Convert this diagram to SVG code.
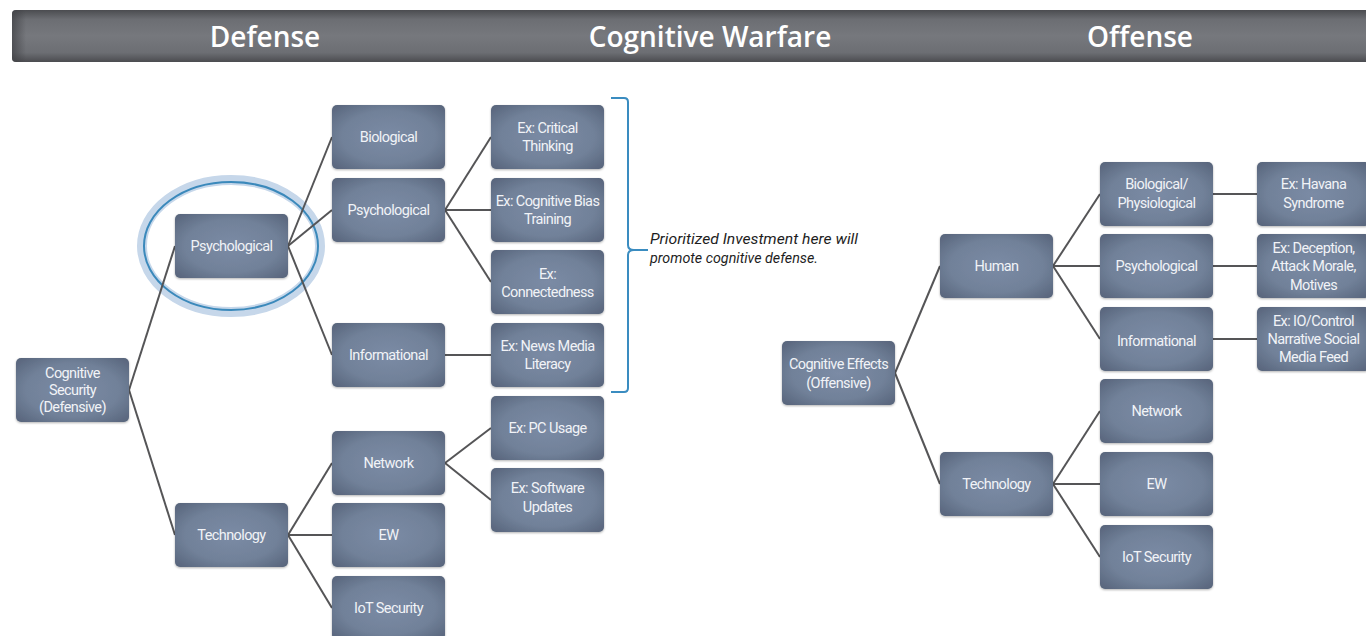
<svg xmlns="http://www.w3.org/2000/svg" width="1366" height="636" viewBox="0 0 1366 636">
<defs>
<linearGradient id="hdr" x1="0" y1="0" x2="0" y2="1">
<stop offset="0" stop-color="#4b4c50"/>
<stop offset="0.18" stop-color="#6c6e73"/>
<stop offset="0.5" stop-color="#76787d"/>
<stop offset="0.82" stop-color="#6c6e73"/>
<stop offset="1" stop-color="#4b4c50"/>
</linearGradient>
<linearGradient id="hdrL" x1="0" y1="0" x2="1" y2="0">
<stop offset="0" stop-color="#3f4044" stop-opacity="0.7"/>
<stop offset="1" stop-color="#3f4044" stop-opacity="0"/>
</linearGradient>
<radialGradient id="nodeG" cx="0.5" cy="0.5" r="0.75">
<stop offset="0" stop-color="#7b8ba5"/>
<stop offset="0.55" stop-color="#718199"/>
<stop offset="1" stop-color="#525e75"/>
</radialGradient>
<filter id="sh" x="-10%" y="-10%" width="120%" height="125%">
<feDropShadow dx="0" dy="1" stdDeviation="1" flood-color="#000" flood-opacity="0.3"/>
</filter>
</defs>
<style>
.hdrtxt{font-family:"Open Sans","DejaVu Sans",sans-serif;font-weight:600;font-size:28px;fill:#ffffff;text-anchor:middle}
.node rect{fill:url(#nodeG);filter:url(#sh)}
.node text{font-family:"Roboto","Liberation Sans",sans-serif;font-size:14.5px;fill:#f1f3f7;text-anchor:middle;letter-spacing:-0.6px}
.conn line{stroke:#555557;stroke-width:2}
.note{font-family:"Roboto","Liberation Sans",sans-serif;font-style:italic;font-size:15.5px;fill:#1e1e1e}
</style>
<rect width="1366" height="636" fill="#ffffff"/>
<g id="header">
<rect x="12" y="10" width="1370" height="52" rx="4" fill="url(#hdr)"/>
<rect x="12" y="10" width="14" height="52" rx="4" fill="url(#hdrL)"/>
<text class="hdrtxt" x="265" y="47">Defense</text>
<text class="hdrtxt" x="710" y="47">Cognitive Warfare</text>
<text class="hdrtxt" x="1140" y="47">Offense</text>
</g>
<g id="highlight">
<ellipse cx="231" cy="246" rx="89" ry="66" fill="none" stroke="#c6d7ea" stroke-width="10"/>
<ellipse cx="231" cy="246" rx="87" ry="64" fill="none" stroke="#3b89bb" stroke-width="2"/>
</g>
<g id="connectors" class="conn">
<line x1="129" y1="390" x2="175" y2="246"/>
<line x1="129" y1="390" x2="175" y2="535"/>
<line x1="288" y1="246" x2="332" y2="137"/>
<line x1="288" y1="246" x2="332" y2="210"/>
<line x1="288" y1="246" x2="332" y2="355"/>
<line x1="288" y1="535" x2="332" y2="463"/>
<line x1="288" y1="535" x2="332" y2="535"/>
<line x1="288" y1="535" x2="332" y2="608"/>
<line x1="445" y1="210" x2="491" y2="137"/>
<line x1="445" y1="210" x2="491" y2="210"/>
<line x1="445" y1="210" x2="491" y2="282"/>
<line x1="445" y1="355" x2="491" y2="355"/>
<line x1="445" y1="463" x2="491" y2="428"/>
<line x1="445" y1="463" x2="491" y2="500"/>
<line x1="895" y1="373" x2="940" y2="266"/>
<line x1="895" y1="373" x2="940" y2="484"/>
<line x1="1053" y1="266" x2="1100" y2="194"/>
<line x1="1053" y1="266" x2="1100" y2="266"/>
<line x1="1053" y1="266" x2="1100" y2="339"/>
<line x1="1053" y1="484" x2="1100" y2="411"/>
<line x1="1053" y1="484" x2="1100" y2="484"/>
<line x1="1053" y1="484" x2="1100" y2="557"/>
<line x1="1213" y1="194" x2="1257" y2="194"/>
<line x1="1213" y1="266" x2="1257" y2="266"/>
<line x1="1213" y1="339" x2="1257" y2="339"/>
</g>
<g id="bracket">
<path d="M611,98 H624 Q628,98 628,102 V245 Q628,250 634,250 H648 M634,250 Q628,250 628,255 V388 Q628,392 624,392 H611" fill="none" stroke="#3a8cc0" stroke-width="2"/>
<text class="note" x="650" y="244" textLength="208" lengthAdjust="spacingAndGlyphs">Prioritized Investment here will</text>
<text class="note" x="650" y="263" textLength="168" lengthAdjust="spacingAndGlyphs">promote cognitive defense.</text>
</g>
<g id="n-cogsec" class="node"><rect x="16" y="358" width="113" height="64" rx="5"/><text x="72.5" y="378">Cognitive</text><text x="72.5" y="395">Security</text><text x="72.5" y="412">(Defensive)</text></g>
<g id="n-psych1" class="node"><rect x="175" y="214" width="113" height="64" rx="5"/><text x="231.5" y="251">Psychological</text></g>
<g id="n-tech1" class="node"><rect x="175" y="503" width="113" height="64" rx="5"/><text x="231.5" y="540">Technology</text></g>
<g id="n-bio1" class="node"><rect x="332" y="105" width="113" height="64" rx="5"/><text x="388.5" y="142">Biological</text></g>
<g id="n-psych2" class="node"><rect x="332" y="178" width="113" height="64" rx="5"/><text x="388.5" y="215">Psychological</text></g>
<g id="n-info1" class="node"><rect x="332" y="323" width="113" height="64" rx="5"/><text x="388.5" y="360">Informational</text></g>
<g id="n-net1" class="node"><rect x="332" y="431" width="113" height="64" rx="5"/><text x="388.5" y="468">Network</text></g>
<g id="n-ew1" class="node"><rect x="332" y="503" width="113" height="64" rx="5"/><text x="388.5" y="540">EW</text></g>
<g id="n-iot1" class="node"><rect x="332" y="576" width="113" height="64" rx="5"/><text x="388.5" y="613">IoT Security</text></g>
<g id="n-crit" class="node"><rect x="491" y="105" width="113" height="64" rx="5"/><text x="547.5" y="133">Ex: Critical</text><text x="547.5" y="151">Thinking</text></g>
<g id="n-bias" class="node"><rect x="491" y="178" width="113" height="64" rx="5"/><text x="547.5" y="206">Ex: Cognitive Bias</text><text x="547.5" y="224">Training</text></g>
<g id="n-conn" class="node"><rect x="491" y="250" width="113" height="64" rx="5"/><text x="547.5" y="279">Ex:</text><text x="547.5" y="297">Connectedness</text></g>
<g id="n-news" class="node"><rect x="491" y="323" width="113" height="64" rx="5"/><text x="547.5" y="351">Ex: News Media</text><text x="547.5" y="369">Literacy</text></g>
<g id="n-pc" class="node"><rect x="491" y="396" width="113" height="64" rx="5"/><text x="547.5" y="433">Ex: PC Usage</text></g>
<g id="n-sw" class="node"><rect x="491" y="468" width="113" height="64" rx="5"/><text x="547.5" y="493">Ex: Software</text><text x="547.5" y="512">Updates</text></g>
<g id="n-coged" class="node"><rect x="782" y="341" width="113" height="64" rx="5"/><text x="838.5" y="369">Cognitive Effects</text><text x="838.5" y="388">(Offensive)</text></g>
<g id="n-human" class="node"><rect x="940" y="234" width="113" height="64" rx="5"/><text x="996.5" y="271">Human</text></g>
<g id="n-tech2" class="node"><rect x="940" y="452" width="113" height="64" rx="5"/><text x="996.5" y="489">Technology</text></g>
<g id="n-bio2" class="node"><rect x="1100" y="162" width="113" height="64" rx="5"/><text x="1156.5" y="189">Biological/</text><text x="1156.5" y="208">Physiological</text></g>
<g id="n-psych3" class="node"><rect x="1100" y="234" width="113" height="64" rx="5"/><text x="1156.5" y="271">Psychological</text></g>
<g id="n-info2" class="node"><rect x="1100" y="307" width="113" height="64" rx="5"/><text x="1156.5" y="346">Informational</text></g>
<g id="n-net2" class="node"><rect x="1100" y="379" width="113" height="64" rx="5"/><text x="1156.5" y="416">Network</text></g>
<g id="n-ew2" class="node"><rect x="1100" y="452" width="113" height="64" rx="5"/><text x="1156.5" y="489">EW</text></g>
<g id="n-iot2" class="node"><rect x="1100" y="525" width="113" height="64" rx="5"/><text x="1156.5" y="562">IoT Security</text></g>
<g id="n-havana" class="node"><rect x="1257" y="162" width="113" height="64" rx="5"/><text x="1313.5" y="189">Ex: Havana</text><text x="1313.5" y="208">Syndrome</text></g>
<g id="n-decep" class="node"><rect x="1257" y="234" width="113" height="64" rx="5"/><text x="1313.5" y="253">Ex: Deception,</text><text x="1313.5" y="271">Attack Morale,</text><text x="1313.5" y="290">Motives</text></g>
<g id="n-io" class="node"><rect x="1257" y="307" width="113" height="64" rx="5"/><text x="1313.5" y="326">Ex: IO/Control</text><text x="1313.5" y="344">Narrative Social</text><text x="1313.5" y="362">Media Feed</text></g>
</svg>
